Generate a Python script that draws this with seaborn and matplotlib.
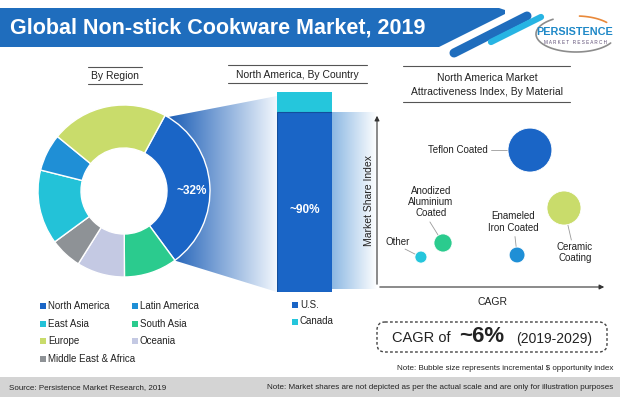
import numpy as np
import pandas as pd
import matplotlib
matplotlib.use("Agg")
import matplotlib.pyplot as plt
from matplotlib.patches import Polygon, FancyBboxPatch, Rectangle
from matplotlib.colors import LinearSegmentedColormap
import seaborn as sns

regions = ["North America", "Latin America", "East Asia", "South Asia",
           "Europe", "Oceania", "Middle East & Africa"]
region_share = [32, 7, 14, 10, 22, 9, 6]
region_colors = ["#1a65c6", "#1f8fd6", "#23c2d8", "#2bcb8e",
                 "#c9dc6b", "#c4c9e3", "#8e9296"]
# order of the segments going clockwise round the ring
ring_order = ["North America", "South Asia", "Oceania", "Middle East & Africa",
              "East Asia", "Latin America", "Europe"]

countries = ["U.S.", "Canada"]
country_share = [90, 10]
country_colors = ["#1a65c6", "#25c6dc"]

materials = ["Teflon Coated", "Ceramic Coating", "Enameled Iron Coated",
             "Anodized Aluminium Coated", "Other"]
material_cagr = [6.65, 8.13, 6.09, 2.87, 1.91]
material_share_idx = [7.87, 4.54, 1.84, 2.53, 1.72]
material_opportunity = [10, 6, 1.3, 1.7, 0.75]
material_colors = ["#1a65c6", "#c9dc6b", "#1f8fd6", "#2bcb8e", "#25c6dc"]
material_labels = ["Teflon Coated", "Ceramic\nCoating", "Enameled\nIron Coated",
                   "Anodized\nAluminium\nCoated", "Other"]

W, H = 620, 397
sns.set_theme(style="white")
plt.rcParams["font.family"] = ["Liberation Sans", "DejaVu Sans"]
DARK = "#222222"

fig = plt.figure(figsize=(6.2, 3.97), dpi=100)
bg = fig.add_axes([0, 0, 1, 1])
bg.set_autoscale_on(False)
bg.set_xlim(0, W)
bg.set_ylim(H, 0)
bg.axis("off")


def box(x0, y0, x1, y1):
    # axes placed in pixel coordinates of the 620x397 picture
    a = fig.add_axes([x0 / W, 1 - y1 / H, (x1 - x0) / W, (y1 - y0) / H])
    a.patch.set_alpha(0)
    return a


def gradient(pts, c0, c1, x0, x1):
    poly = Polygon(pts, closed=True, facecolor="none", edgecolor="none")
    bg.add_patch(poly)
    cmap = LinearSegmentedColormap.from_list("g", [c0, c1])
    ys = [p[1] for p in pts]
    im = bg.imshow(np.linspace(0, 1, 256).reshape(1, -1), cmap=cmap,
                   extent=(x0, x1, max(ys), min(ys)), aspect="auto", zorder=1)
    im.set_clip_path(poly)


# ---- header band ----
bg.add_patch(Polygon([(0, 8), (499, 8), (505, 10), (505, 14), (439, 47), (0, 47)],
                     closed=True, facecolor="#1f6dbd", lw=0))
bg.plot([454, 527], [53, 16], color="#1f6dbd", lw=6.5, solid_capstyle="round")
bg.plot([491, 541], [42, 17], color="#27b4e3", lw=4.5, solid_capstyle="round")
bg.text(10, 28, "Global Non-stick Cookware Market, 2019", color="white",
        fontsize=15.5, fontweight="bold", va="center")

# logo
t = np.radians(np.linspace(125, 330, 60))
bg.plot(576 + 40 * np.cos(t), 34 - 18 * np.sin(t), color="#8c8c8c", lw=1.2)
t = np.radians(np.linspace(40, 85, 20))
bg.plot(576 + 40 * np.cos(t), 34 - 18 * np.sin(t), color="#e9893a", lw=1.2)
bg.text(575, 32, "PERSISTENCE", color="#1e88c7", fontsize=7.8,
        fontweight="bold", ha="center", va="center")
bg.text(575, 42, "M A R K E T   R E S E A R C H", color="#5b4b73",
        fontsize=3.3, ha="center", va="center")


# ---- section headings ----
def heading(cx, lines_y, text_y, x0, x1, text):
    for y in lines_y:
        bg.plot([x0, x1], [y, y], color="#555555", lw=0.8)
    bg.text(cx, text_y, text, fontsize=7.5, color=DARK, ha="center",
            va="center", linespacing=1.6)


heading(115, (67, 84), 76, 88, 142, "By Region")
heading(297, (65, 83), 74.5, 228, 367, "North America, By Country")
heading(487, (66, 102), 85, 403, 570,
        "North America Market\nAttractiveness Index, By Material")

# ---- funnels ----
gradient([(163, 118), (200, 190), (173, 260), (277, 292), (277, 96)],
         "#1a5db6", "#f2f7fd", 168, 277)
gradient([(332, 112), (377, 112), (377, 289), (332, 289)],
         "#8cb8e3", "#ffffff", 332, 377)

# ---- donut by region ----
ax_d = box(38, 105, 210, 277)
share_map = dict(zip(regions, region_share))
color_map = dict(zip(regions, region_colors))
ax_d.pie([share_map[r] for r in ring_order],
         colors=[color_map[r] for r in ring_order],
         startangle=61.5, counterclock=False, radius=1,
         wedgeprops=dict(width=0.5, edgecolor="white", linewidth=1))
ax_d.set_xlim(-1, 1)
ax_d.set_ylim(-1, 1)
ax_d.set_aspect("equal")
ax_d.axis("off")
ax_d.text(0.79, 0.0, f"~{share_map['North America']}%", color="white",
          fontsize=8.5, fontweight="bold", ha="center", va="center")

# legend
for i, (name, col) in enumerate(zip(regions, region_colors)):
    lx = 43 + 92 * (i % 2)
    ly = 306 + 17.7 * (i // 2)
    bg.add_patch(Rectangle((lx - 3, ly - 3), 6, 6, facecolor=col, lw=0))
    bg.text(lx + 5, ly, name, fontsize=7, color=DARK, va="center")

# ---- stacked bar by country ----
ax_b = box(277, 92, 332, 292)
dfc = pd.DataFrame({"grp": ["North America"],
                    "total": [sum(country_share)],
                    "us": [country_share[0]]})
sns.barplot(data=dfc, x="grp", y="total", color=country_colors[1],
            saturation=1, width=1, ax=ax_b, linewidth=0)
sns.barplot(data=dfc, x="grp", y="us", color=country_colors[0],
            saturation=1, width=1, ax=ax_b, edgecolor="#134f9c", linewidth=0.8)
ax_b.set_xlim(-0.5, 0.5)
ax_b.set_ylim(0, 100)
ax_b.axis("off")
ax_b.text(0, 41, f"~{country_share[0]}%", color="white", fontsize=8.5,
          fontweight="bold", ha="center", va="center")

for i, (name, col) in enumerate(zip(countries, country_colors)):
    ly = 305 + 16.5 * i
    bg.add_patch(Rectangle((292, ly - 3), 6, 6, facecolor=col, lw=0))
    bg.text(300, ly, name, fontsize=7, color=DARK, va="center")

# ---- bubble chart ----
ax_m = box(377, 113, 607, 287)
dfm = pd.DataFrame({"material": materials, "cagr": material_cagr,
                    "share": material_share_idx, "opp": material_opportunity})
sns.scatterplot(data=dfm, x="cagr", y="share", hue="material",
                palette=dict(zip(materials, material_colors)),
                size="opp", sizes=(75, 1000), size_norm=(0.75, 10),
                legend=False, edgecolor="white", linewidth=0.6, alpha=1,
                zorder=3, ax=ax_m)
ax_m.set_xlim(0, 10)
ax_m.set_ylim(0, 10)
ax_m.set_xticks([])
ax_m.set_yticks([])
for s in ax_m.spines.values():
    s.set_visible(False)
arrow = dict(arrowstyle="-|>", color="#333333", lw=0.8, mutation_scale=7)
ax_m.annotate("", xy=(0, 1.0), xytext=(0, 0), xycoords="axes fraction",
              arrowprops=arrow)
ax_m.annotate("", xy=(1.0, 0), xytext=(0, 0), xycoords="axes fraction",
              arrowprops=arrow)
ax_m.set_xlabel("CAGR", fontsize=7.5, color=DARK, labelpad=7)
ax_m.set_ylabel("Market Share Index", fontsize=7.5, color=DARK, labelpad=2)

# label position, alignment and leader line end for each bubble
label_layout = [
    ((4.83, 7.87), "right", (4.95, 7.87)),
    ((8.6, 2.0), "center", (8.45, 2.7)),
    ((5.91, 3.74), "center", (6.0, 2.9)),
    ((2.35, 4.89), "center", (2.3, 3.74)),
    ((0.91, 2.59), "center", (1.22, 2.18)),
]
for lab, (pos, ha, lead), cx, cy in zip(material_labels, label_layout,
                                         material_cagr, material_share_idx):
    ax_m.plot([lead[0], cx], [lead[1], cy], color="#9a9a9a", lw=0.6, zorder=2)
    ax_m.text(pos[0], pos[1], lab, fontsize=7, color=DARK, ha=ha,
              va="center", linespacing=1.15, zorder=4)

# ---- CAGR box ----
bg.add_patch(FancyBboxPatch((377, 322), 230, 30,
                            boxstyle="round,pad=0,rounding_size=8",
                            facecolor="none", edgecolor="#444444", lw=1,
                            linestyle=(0, (2, 1.6))))
bg.text(392, 338, "CAGR of", fontsize=10.5, color=DARK, va="center")
bg.text(459, 337, "~6%", fontsize=16, fontweight="bold", color=DARK, va="center")
bg.text(516, 339, "(2019-2029)", fontsize=10, color=DARK, va="center")
bg.text(613, 369, r"Note: Bubble size represents incremental \$ opportunity index",
        fontsize=5.8, color=DARK, ha="right", va="center")

# ---- footer ----
bg.add_patch(Rectangle((0, 377), W, 20, facecolor="#d4d4d4", lw=0))
bg.text(9, 387.5, "Source: Persistence Market Research, 2019", fontsize=5.8,
        color=DARK, va="center")
bg.text(613, 387.5, "Note: Market shares are not depicted as per the actual "
        "scale and are only for illustration purposes", fontsize=5.8,
        color=DARK, ha="right", va="center")

bg.set_xlim(0, W)
bg.set_ylim(H, 0)
fig.savefig("out.png", dpi=100)
